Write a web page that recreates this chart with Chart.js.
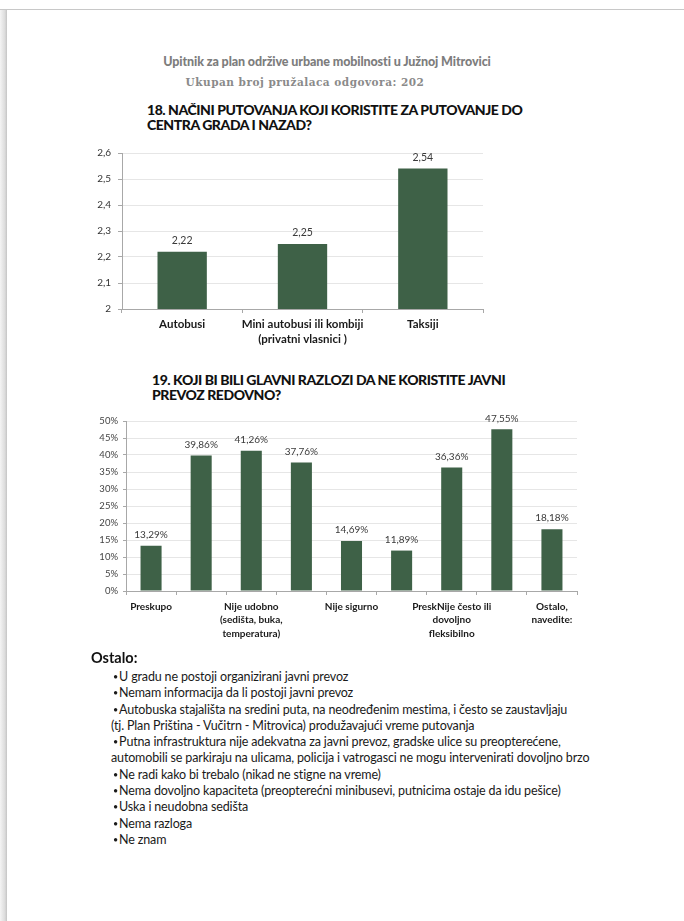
<!DOCTYPE html>
<html>
<head>
<meta charset="utf-8">
<script src="https://cdn.jsdelivr.net/npm/chart.js@4.4.1/dist/chart.umd.min.js"></script>
<style>
  html, body { margin: 0; padding: 0; background: #fff; }
  body { width: 684px; height: 921px; position: relative; overflow: hidden; font-family: Lato, "Open Sans", sans-serif; color: #1a1a1a; }
  .frame { position: absolute; left: 0; top: 9px; width: 684px; height: 912px; border-top: 1px solid #c8c8c8; }
  .frame:before { content: ''; position: absolute; left: 0; top: 0; width: 7px; height: 100%; background: linear-gradient(to right, #f4f4f4, #dcdcdc 70%, #c4c4c4); }
  .abs { position: absolute; white-space: nowrap; }
  .head1 { left: 0; width: 654px; top: 54px; text-align: center; font-weight: 900; font-size: 12.5px; color: #7d7d7d; letter-spacing: -0.1px; }
  .head2 { left: 0; width: 610px; top: 76px; text-align: center; font-family: "DejaVu Serif", serif; font-weight: bold; font-size: 10.5px; letter-spacing: 0.5px; color: #8a8a8a; }
  .title { font-weight: 900; font-size: 14px; line-height: 15px; color: #111; letter-spacing: -0.45px; }
  .box { position: absolute; }
  .ostalo { left: 91px; top: 649px; font-weight: bold; font-size: 14.5px; color: #111; }
  .list { left: 111px; top: 669px; font-size: 12.5px; line-height: 16.3px; color: #1a1a1a; letter-spacing: -0.15px; }
  .list span { font-size: 9px; line-height: 0; position: relative; top: -1px; margin-left: 2px; margin-right: 1px; }
</style>
</head>
<body>
<div class="frame"></div>
<div class="abs head1">Upitnik za plan održive urbane mobilnosti u Južnoj Mitrovici</div>
<div class="abs head2">Ukupan broj pružalaca odgovora: 202</div>

<div class="abs title" style="left:147px; top:102px;">18. NAČINI PUTOVANJA KOJI KORISTITE ZA PUTOVANJE DO<br>CENTRA GRADA I NAZAD?</div>
<div class="box" style="left:60px; top:140px;"><canvas id="chart1" width="440" height="210"></canvas></div>

<div class="abs title" style="left:152px; top:372px;">19. KOJI BI BILI GLAVNI RAZLOZI DA NE KORISTITE JAVNI<br>PREVOZ REDOVNO?</div>
<div class="box" style="left:80px; top:405px;"><canvas id="chart2" width="520" height="245"></canvas></div>

<div class="abs ostalo">Ostalo:</div>
<div class="abs list">
<span>•</span>U gradu ne postoji organizirani javni prevoz<br>
<span>•</span>Nemam informacija da li postoji javni prevoz<br>
<span>•</span>Autobuska stajališta na sredini puta, na neodređenim mestima, i često se zaustavljaju<br>
(tj. Plan Priština - Vučitrn - Mitrovica) produžavajući vreme putovanja<br>
<span>•</span>Putna infrastruktura nije adekvatna za javni prevoz, gradske ulice su preopterećene,<br>
automobili se parkiraju na ulicama, policija i vatrogasci ne mogu intervenirati dovoljno brzo<br>
<span>•</span>Ne radi kako bi trebalo (nikad ne stigne na vreme)<br>
<span>•</span>Nema dovoljno kapaciteta (preopterećni minibusevi, putnicima ostaje da idu pešice)<br>
<span>•</span>Uska i neudobna sedišta<br>
<span>•</span>Nema razloga<br>
<span>•</span>Ne znam
</div>

<script>
'use strict';

// question 18
var modes = ['Autobusi', ['Mini autobusi ili kombiji', '(privatni vlasnici )'], 'Taksiji'];
var modeScores = [2.22, 2.25, 2.54];

// question 19 (only every other category label is printed in the original)
var reasons = ['Preskupo', '', ['Nije udobno', '(sedišta, buka,', 'temperatura)'], '', 'Nije sigurno', '',
  ['PreskNije često ili', 'dovoljno', 'fleksibilno'], '', ['Ostalo,', 'navedite:']];
var reasonShares = [13.29, 39.86, 41.26, 37.76, 14.69, 11.89, 36.36, 47.55, 18.18];

var barGreen = '#3e6147';
var axisGrey = '#a8a8a8';
var gridGrey = '#e6e6e6';

Chart.defaults.font.family = 'Lato, "Open Sans", sans-serif';
Chart.defaults.animation = false;

function comma (v, digits) {
  return v.toFixed(digits).replace('.', ',');
}

// draws the value above each bar
var valueLabels = {
  id: 'valueLabels',
  afterDatasetsDraw: function (chart, args, opts) {
    var ctx = chart.ctx;
    var meta = chart.getDatasetMeta(0);
    var data = chart.data.datasets[0].data;
    ctx.save();
    ctx.font = opts.font;
    ctx.fillStyle = '#3a3a3a';
    ctx.textAlign = 'center';
    ctx.textBaseline = 'middle';
    for (var i = 0; i < meta.data.length; i++) {
      var bar = meta.data[i];
      ctx.fillText(comma(data[i], 2) + opts.suffix, bar.x, bar.y - opts.gap);
    }
    ctx.restore();
  }
};

var ctx1 = document.getElementById('chart1').getContext('2d');
var chart1 = new Chart(ctx1, {
  type: 'bar',
  data: {
    labels: modes,
    datasets: [{
      data: modeScores,
      backgroundColor: barGreen,
      categoryPercentage: 1,
      barPercentage: 0.41
    }]
  },
  plugins: [valueLabels],
  options: {
    responsive: false,
    layout: { padding: { left: 0, right: 17, top: 10, bottom: 0 } },
    plugins: {
      legend: { display: false },
      tooltip: { enabled: false },
      valueLabels: { font: '10.5px Lato', suffix: '', gap: 11 }
    },
    scales: {
      y: {
        min: 2,
        max: 2.6,
        ticks: {
          stepSize: 0.1,
          padding: 7,
          color: '#333',
          font: { size: 10 },
          callback: function (v) { return String(Math.round(v * 10) / 10).replace('.', ','); }
        },
        grid: { color: gridGrey, tickColor: axisGrey, tickLength: 4 },
        border: { color: axisGrey },
        afterFit: function (scale) { scale.width = 62; }
      },
      x: {
        ticks: { padding: 4, color: '#1a1a1a', font: { size: 11.5, weight: 'bold', lineHeight: 1.3 }, maxRotation: 0, autoSkip: false },
        grid: { drawOnChartArea: false, color: axisGrey, tickLength: 4 },
        border: { color: axisGrey },
        afterFit: function (scale) { scale.height = 41; }
      }
    }
  }
});

var ctx2 = document.getElementById('chart2').getContext('2d');
var chart2 = new Chart(ctx2, {
  type: 'bar',
  data: {
    labels: reasons,
    datasets: [{
      data: reasonShares,
      backgroundColor: barGreen,
      categoryPercentage: 1,
      barPercentage: 0.42
    }]
  },
  plugins: [valueLabels],
  options: {
    responsive: false,
    layout: { padding: { left: 0, right: 23, top: 16, bottom: 0 } },
    plugins: {
      legend: { display: false },
      tooltip: { enabled: false },
      valueLabels: { font: '10px Lato', suffix: '%', gap: 11 }
    },
    scales: {
      y: {
        min: 0,
        max: 50,
        ticks: {
          stepSize: 5,
          padding: 5,
          color: '#444',
          font: { size: 9.5 },
          callback: function (v) { return v + '%'; }
        },
        grid: { color: gridGrey, tickColor: axisGrey, tickLength: 3 },
        border: { color: axisGrey },
        afterFit: function (scale) { scale.width = 46; }
      },
      x: {
        ticks: { padding: 5, color: '#1a1a1a', font: { size: 10, weight: 'bold', lineHeight: 1.35 }, maxRotation: 0, autoSkip: false },
        grid: { drawOnChartArea: false, color: axisGrey, tickLength: 4 },
        border: { color: axisGrey },
        afterFit: function (scale) { scale.height = 59; }
      }
    }
  }
});
</script>
</body>
</html>
